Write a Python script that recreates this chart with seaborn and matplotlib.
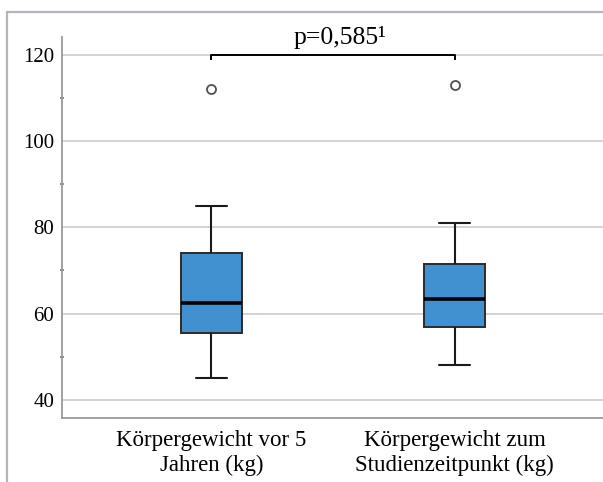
import matplotlib
matplotlib.use("Agg")
import matplotlib.pyplot as plt
from matplotlib.lines import Line2D
from matplotlib.ticker import MultipleLocator
import seaborn as sns
import pandas as pd

# ---- data ----
categories = ["Körpergewicht vor 5\nJahren (kg)", "Körpergewicht zum\nStudienzeitpunkt (kg)"]
whisker_low = [45.0, 48.0]
q1 = [55.4, 56.9]
median = [62.5, 63.5]
q3 = [74.0, 71.4]
whisker_high = [85.0, 81.0]
outliers = [112.0, 113.0]
p_label = "p=0,585\u00b9"
y_ticks = [40, 60, 80, 100, 120]

# long-form table reproducing the five-number summaries (n=9 -> exact quartiles)
rows = []
for i, cat in enumerate(categories):
    vals = [whisker_low[i], q1[i], q1[i], median[i], median[i],
            q3[i], q3[i], whisker_high[i], outliers[i]]
    rows += [{"group": cat, "value": v} for v in vals]
df = pd.DataFrame(rows)

sns.set_theme(style="white")
plt.rcParams["font.family"] = ["Liberation Serif", "DejaVu Serif"]

W, H = 603, 482
fig = plt.figure(figsize=(W / 100, H / 100), dpi=100)
ax = fig.add_axes([62 / W, 1 - 418 / H, (W - 62) / W, (418 - 36.7) / H])

box_color = "#4191D1"
sns.boxplot(
    data=df, x="group", y="value", ax=ax, order=categories,
    color=box_color, saturation=1, width=0.25, whis=1.5, linewidth=1.4,
    boxprops=dict(facecolor=box_color, edgecolor="#2b2b2b"),
    medianprops=dict(color="black", linewidth=2.6),
    whiskerprops=dict(color="#1a1a1a", linewidth=1.5),
    capprops=dict(color="#1a1a1a", linewidth=1.5),
    flierprops=dict(marker="o", markersize=6.5, markerfacecolor="none",
                    markeredgecolor="#505050", markeredgewidth=1.3),
)

ax.set_xlim(-0.615, 1.611)
ax.set_ylim(35.8, 124.2)
ax.set_yticks(y_ticks)
ax.yaxis.set_minor_locator(MultipleLocator(10))
ax.grid(axis="y", which="major", color="#d3d3d3", linewidth=1.4)
ax.set_axisbelow(True)
ax.set_xlabel("")
ax.set_ylabel("")

for s in ["top", "right"]:
    ax.spines[s].set_visible(False)
for s in ["left", "bottom"]:
    ax.spines[s].set_color("#9a9a9a")
    ax.spines[s].set_linewidth(1.3)

ax.tick_params(axis="y", which="major", length=0, pad=5.5, labelsize=15, labelcolor="black")
ax.tick_params(axis="y", which="minor", length=3, width=1.2, direction="inout", color="#777777", left=True)
ax.tick_params(axis="x", length=0, pad=8.5, labelsize=16.5, labelcolor="black")
for lab in ax.get_xticklabels():
    lab.set_linespacing(1.25)

# significance bracket
ax.plot([0, 0, 1, 1], [118.8, 120, 120, 118.8], color="black", linewidth=1.4,
        solid_capstyle="butt", clip_on=False, zorder=5)
ax.text(0.53, 122.4, p_label, ha="center", va="baseline", fontsize=18.5, color="black")

# outer SPSS-like frame
frame_col = "#b4b4bc"
fig.add_artist(Line2D([7 / W, 7 / W], [0, 1 - 11.5 / H], transform=fig.transFigure,
                      color=frame_col, linewidth=1.6))
fig.add_artist(Line2D([7 / W, 1], [1 - 11.5 / H, 1 - 11.5 / H], transform=fig.transFigure,
                      color=frame_col, linewidth=1.6))

fig.savefig("out.png", dpi=100, facecolor="white")
